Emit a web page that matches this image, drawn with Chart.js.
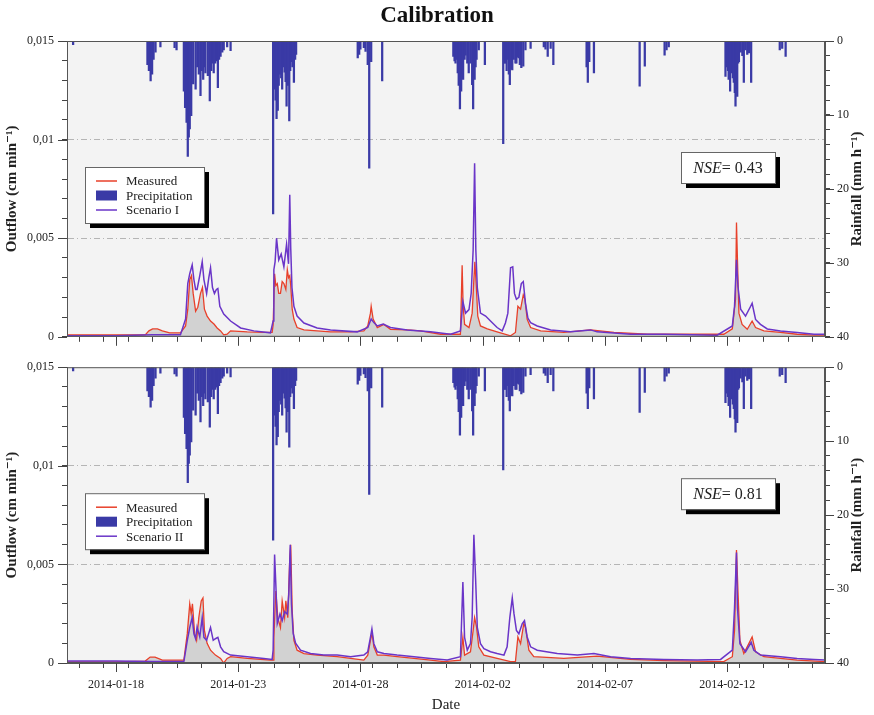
<!DOCTYPE html>
<html>
<head>
<meta charset="utf-8">
<script src="https://cdn.jsdelivr.net/npm/chart.js@4.4.1/dist/chart.umd.min.js"></script>
<style>
  html, body { margin: 0; padding: 0; background: #fff; }
  canvas { display: block; }
</style>
</head>
<body>
<canvas id="topPanel" width="874" height="352"></canvas>
<canvas id="bottomPanel" width="874" height="363"></canvas>
<script>
// ---------------------------------------------------------------
// Data (x = days since 2014-01-16 00:00)
// ---------------------------------------------------------------
const dayTicks   = [2, 7, 12, 17, 22, 27];
const dateLabels = ["2014-01-18", "2014-01-23", "2014-01-28", "2014-02-02", "2014-02-07", "2014-02-12"];
const outflowTicks  = [0, 0.005, 0.01, 0.015];
const outflowLabels = ["0", "0,005", "0,01", "0,015"];
const rainTicks = [0, 10, 20, 30, 40];
const seriesNames = ["Measured", "Precipitation", "Scenario I", "Scenario II"];
const nseValues = ["0.43", "0.81"];

// precipitation [day, mm/h]
const rainfall = [
  [0.25,0.5],
  [3.29,3.2],[3.35,4.0],[3.42,5.4],[3.48,4.5],[3.54,2.5],[3.62,1.5],[3.82,0.8],[4.40,0.9],[4.48,1.2],
  [4.78,6.8],[4.83,9],[4.89,11],[4.94,15.6],[4.98,13],[5.02,11.9],[5.08,10.1],[5.16,5.8],[5.26,6.5],[5.33,3.5],
  [5.39,4.5],[5.46,7.4],[5.51,4],[5.57,5.2],[5.62,3.5],[5.66,4.3],[5.76,4.7],[5.84,8.1],[5.90,4],[5.94,3],
  [6.00,4.3],[6.06,3],[6.11,2.7],[6.17,6.3],[6.22,2.5],[6.28,2.1],[6.35,1.5],[6.41,1.2],[6.55,0.8],[6.69,1.3],
  [8.43,23.4],[8.49,6.5],[8.53,8],[8.57,10.5],[8.62,9.4],[8.66,6],[8.70,4.5],[8.76,5],[8.80,6.5],[8.84,3.5],
  [8.90,4.2],[8.94,5.5],[8.98,8.8],[9.03,6],[9.09,10.8],[9.13,4],[9.17,2.8],[9.22,3.5],[9.28,5.6],[9.33,2.5],[9.37,1.8],
  [11.89,2.3],[11.95,1.8],[12.00,1.1],[12.14,0.9],[12.21,1.4],[12.30,3.2],[12.36,17.2],[12.44,2.8],[12.89,5.4],
  [15.80,2.1],[15.85,2.7],[15.89,3.0],[15.93,2.5],[15.98,4.3],[16.02,6],[16.07,9.2],[16.12,6.8],[16.16,4.5],[16.20,5.2],
  [16.26,2.5],[16.30,1.9],[16.37,3.0],[16.43,4.3],[16.50,3.0],[16.57,5.9],[16.61,9.2],[16.67,5.2],[16.71,3.5],[16.75,2.5],
  [16.84,1.2],[17.09,3.2],
  [17.84,13.9],[17.89,3],[17.93,3.0],[17.98,4],[18.03,2.5],[18.07,4.5],[18.11,5.9],[18.17,3.8],[18.21,3.9],[18.27,2.5],
  [18.34,3],[18.38,3.0],[18.44,2.2],[18.48,2.3],[18.52,3.2],[18.58,3.6],[18.66,3.4],[18.75,1.2],[18.96,1.0],
  [19.50,0.8],[19.57,1.1],[19.66,2.1],[19.78,1.0],[19.89,3.2],
  [21.25,3.5],[21.30,5.6],[21.36,2.8],[21.55,4.3],
  [23.42,6.1],[23.63,3.4],
  [24.44,1.9],[24.52,1.2],[24.61,0.8],
  [26.93,4.8],[26.97,3.5],[27.00,3.4],[27.03,4.0],[27.06,5.2],[27.10,4.5],[27.12,6.8],[27.16,4.0],[27.19,4.3],[27.23,5.0],
  [27.27,5.6],[27.31,7.0],[27.34,8.8],[27.38,6.5],[27.41,7.5],[27.45,3],[27.48,2.8],[27.55,1.5],[27.62,2],[27.68,5.6],
  [27.75,1.2],[27.82,1.8],[27.89,1.6],[27.98,5.6],
  [29.15,1.2],[29.25,1.0],[29.39,2.1]
];

// outflow [day, cm/min]
const measuredTop = [
  [0,0.0001],[1,0.0001],[2,0.0001],[3.2,0.0001],[3.35,0.0003],[3.5,0.0004],[3.7,0.0004],[3.9,0.0003],[4.2,0.0002],[4.64,0.0002],
  [4.85,0.00055],[4.94,0.0014],[5.02,0.0029],[5.09,0.0031],[5.16,0.0022],[5.26,0.0013],[5.35,0.0015],[5.46,0.0022],[5.54,0.0025],
  [5.62,0.0014],[5.73,0.00105],[5.87,0.0008],[6.01,0.00065],[6.14,0.00045],[6.28,0.0003],[6.41,0.0001],[6.55,0.00013],[6.69,0.0003],
  [7.37,0.00025],[8.05,0.00022],[8.39,0.00022],[8.43,0.0006],[8.49,0.0032],[8.54,0.0026],[8.6,0.0027],[8.66,0.0022],[8.73,0.0022],
  [8.8,0.0028],[8.87,0.0027],[8.95,0.0024],[9.01,0.0034],[9.06,0.003],[9.11,0.0031],[9.15,0.0026],[9.21,0.0014],[9.28,0.0009],
  [9.41,0.00047],[9.69,0.00035],[10.23,0.0003],[10.78,0.00025],[11.6,0.00025],[12.14,0.0003],[12.3,0.00055],[12.41,0.0012],
  [12.44,0.00155],[12.52,0.0009],[12.69,0.00047],[12.96,0.00063],[13.23,0.00038],[13.91,0.00035],[14.46,0.0003],[15.28,0.00013],
  [15.69,0.00013],[16.09,0.00013],[16.16,0.00363],[16.2,0.0016],[16.26,0.00063],[16.44,0.00047],[16.57,0.0012],[16.64,0.0029],
  [16.68,0.0038],[16.74,0.00255],[16.8,0.00105],[16.91,0.00055],[17.19,0.0004],[17.59,0.00025],[18.14,0.00005],[18.34,0.00022],
  [18.44,0.00155],[18.55,0.0014],[18.66,0.00213],[18.73,0.0019],[18.82,0.00088],[18.96,0.00047],[19.37,0.0003],[20.32,0.00022],
  [21.41,0.00035],[22.37,0.00022],[23.73,0.00013],[25.09,0.00013],[26.86,0.00013],[27.21,0.0004],[27.34,0.0019],[27.38,0.0058],
  [27.42,0.0039],[27.48,0.0012],[27.61,0.00063],[27.82,0.00038],[28.02,0.0008],[28.16,0.00047],[28.5,0.0003],[29.18,0.00022],
  [29.86,0.00013],[30.55,0.00008],[31,0.00008]
];
const scenarioI = [
  [0,0.00005],[2,0.00005],[3.5,0.0001],[4.64,0.0001],[4.85,0.0009],[4.94,0.0027],[5.02,0.0032],[5.12,0.00365],[5.19,0.0029],
  [5.26,0.0024],[5.32,0.0024],[5.43,0.0031],[5.53,0.0038],[5.6,0.0029],[5.71,0.0022],[5.8,0.003],[5.87,0.0035],[5.95,0.0025],
  [6.03,0.0022],[6.11,0.0024],[6.17,0.00245],[6.25,0.00155],[6.41,0.00115],[6.69,0.0008],[7.1,0.00045],[7.64,0.0003],[8.32,0.0002],
  [8.43,0.0008],[8.46,0.0034],[8.51,0.0038],[8.57,0.005],[8.66,0.0039],[8.76,0.0042],[8.87,0.00355],[8.98,0.0047],[9.06,0.0037],
  [9.11,0.0072],[9.15,0.0045],[9.2,0.0025],[9.28,0.00155],[9.41,0.00105],[9.69,0.0007],[10.23,0.00045],[10.78,0.00035],
  [11.87,0.00025],[12.3,0.00047],[12.44,0.0009],[12.55,0.00072],[12.69,0.00055],[12.93,0.00065],[13.23,0.00047],[13.91,0.00035],
  [14.87,0.00025],[15.69,0.00013],[16.09,0.0003],[16.19,0.0018],[16.3,0.0012],[16.44,0.00138],[16.53,0.0022],[16.61,0.0044],
  [16.67,0.0088],[16.72,0.0044],[16.78,0.0025],[16.91,0.0012],[17.12,0.00105],[17.32,0.0008],[17.59,0.00047],[17.8,0.0003],
  [17.93,0.0007],[18.03,0.0012],[18.14,0.0035],[18.23,0.00355],[18.3,0.0022],[18.38,0.0019],[18.48,0.002],[18.58,0.0027],
  [18.66,0.0028],[18.75,0.0017],[18.85,0.00095],[18.96,0.00072],[19.23,0.00055],[19.78,0.00035],[20.59,0.00025],[21.41,0.00035],
  [21.68,0.00025],[23.05,0.00013],[24.41,0.00013],[26.59,0.00008],[27.21,0.00055],[27.3,0.00155],[27.38,0.0039],[27.44,0.00255],
  [27.55,0.0014],[27.75,0.00105],[27.96,0.00155],[28.02,0.0017],[28.16,0.00088],[28.36,0.00063],[28.64,0.0004],[29.18,0.0003],
  [29.86,0.00022],[30.55,0.00013],[31,0.00013]
];
const measuredBottom = [
  [0,0.00005],[2,0.00005],[3.2,0.0001],[3.4,0.0003],[3.6,0.0003],[3.9,0.00015],[4.78,0.00015],[4.92,0.0015],[5.02,0.003],
  [5.08,0.0025],[5.13,0.003],[5.22,0.0015],[5.3,0.00115],[5.39,0.0023],[5.49,0.00315],[5.56,0.0033],[5.62,0.00165],[5.73,0.001],
  [5.87,0.00065],[6.07,0.0004],[6.28,0.00023],[6.41,0],[6.55,0.00023],[6.69,0.00032],[7.37,0.00023],[8.32,0.00015],[8.43,0.00015],
  [8.46,0.0013],[8.54,0.00365],[8.62,0.0023],[8.73,0.0018],[8.8,0.00315],[8.9,0.0023],[8.95,0.00315],[9.03,0.0023],[9.11,0.0053],
  [9.15,0.006],[9.21,0.00265],[9.28,0.00115],[9.41,0.00065],[9.69,0.00048],[10.23,0.0004],[11.05,0.00032],[11.6,0.00023],
  [12.14,0.00015],[12.3,0.0004],[12.41,0.00115],[12.48,0.0015],[12.55,0.00082],[12.69,0.0004],[12.96,0.0004],[13.5,0.00032],
  [14.19,0.00023],[14.87,0.00015],[15.41,0.00007],[16.09,0.00015],[16.19,0.0013],[16.26,0.0004],[16.5,0.00057],[16.61,0.00165],
  [16.67,0.0023],[16.75,0.00182],[16.84,0.00082],[17.05,0.0004],[17.59,0.00023],[18.14,0.00007],[18.34,0.00007],[18.44,0.00132],
  [18.55,0.00098],[18.68,0.002],[18.75,0.00182],[18.89,0.00065],[19.09,0.00032],[20.32,0.00023],[21.68,0.00035],[23.05,0.00018],
  [24.41,0.00012],[26.86,0.00007],[27.21,0.00032],[27.3,0.00165],[27.38,0.00573],[27.44,0.00365],[27.52,0.00115],[27.68,0.00048],
  [28.02,0.00132],[28.16,0.00057],[28.5,0.00032],[29.86,0.00015],[31,0.00007]
];
const scenarioII = [
  [0,0.0001],[2,0.0001],[3.5,0.00007],[4.78,0.00007],[4.92,0.00115],[5.02,0.0018],[5.12,0.0023],[5.19,0.00148],[5.26,0.00123],
  [5.32,0.00182],[5.43,0.00132],[5.53,0.0023],[5.6,0.0013],[5.71,0.00115],[5.87,0.0018],[5.98,0.00115],[6.07,0.00123],[6.17,0.0013],
  [6.28,0.00082],[6.41,0.00057],[6.69,0.0004],[7.37,0.00032],[8.05,0.00023],[8.39,0.00018],[8.43,0.00065],[8.49,0.0055],[8.54,0.004],
  [8.6,0.002],[8.71,0.00248],[8.8,0.00215],[8.9,0.0026],[9.01,0.00248],[9.07,0.00348],[9.13,0.006],[9.18,0.003],[9.25,0.0015],
  [9.35,0.001],[9.55,0.00065],[9.96,0.00048],[10.5,0.0004],[11.05,0.0004],[11.6,0.00032],[12.14,0.0004],[12.3,0.00057],[12.41,0.0013],
  [12.47,0.00173],[12.55,0.00098],[12.69,0.00057],[12.96,0.00048],[13.5,0.0004],[14.19,0.00032],[14.87,0.00023],[15.55,0.00015],
  [16.09,0.00032],[16.19,0.0041],[16.26,0.0013],[16.37,0.00065],[16.5,0.00098],[16.57,0.0023],[16.64,0.0065],[16.71,0.0043],
  [16.78,0.0018],[16.91,0.00098],[17.05,0.00073],[17.32,0.00057],[17.59,0.00048],[17.87,0.0004],[18,0.00082],[18.11,0.0023],
  [18.21,0.0033],[18.28,0.0025],[18.38,0.00165],[18.48,0.00148],[18.62,0.002],[18.71,0.00215],[18.82,0.00132],[18.96,0.00082],
  [19.23,0.00065],[20.05,0.00048],[20.87,0.0004],[21.55,0.00048],[22.23,0.00032],[23.05,0.00023],[24.41,0.00018],[25.77,0.00015],
  [26.73,0.00018],[27.21,0.00065],[27.3,0.0028],[27.38,0.0056],[27.42,0.0028],[27.52,0.00098],[27.75,0.00057],[27.98,0.00105],
  [28.09,0.00065],[28.36,0.0004],[29.18,0.00032],[29.86,0.00023],[30.55,0.00018],[31,0.00015]
];

// ---------------------------------------------------------------
// Styling
// ---------------------------------------------------------------
const FONT = "'Liberation Serif', 'DejaVu Serif', serif";
const TEXT = "#222";
const RED = "#e8402a";
const PURPLE = "#6a35c8";
const BLUE = "#3a3aa6";
const AXIS = "#555";

const toXY = arr => arr.map(([x, y]) => ({ x, y }));
const near = (a, b) => Math.abs(a - b) < 1e-9;

// background, frame, longer major ticks, legend box, NSE box, right title
function panelDecor(nse){
  return {
    id: "panelDecor",
    beforeDraw(chart){
      const { ctx, chartArea: a } = chart;
      ctx.save();
      ctx.fillStyle = "#f3f3f3";
      ctx.fillRect(a.left, a.top, a.right - a.left, a.bottom - a.top);
      ctx.restore();
    },
    afterDraw(chart){
      const { ctx, chartArea: a, scales } = chart;
      ctx.save();
      ctx.strokeStyle = AXIS;
      ctx.lineWidth = 1;
      ctx.strokeRect(a.left + 0.5, a.top + 0.5, a.right - a.left - 1, a.bottom - a.top - 1);

      // major ticks a little longer than the minor ones
      ctx.strokeStyle = "#444";
      ctx.beginPath();
      dayTicks.forEach(d => {
        const px = Math.round(scales.x.getPixelForValue(d)) + 0.5;
        ctx.moveTo(px, a.bottom); ctx.lineTo(px, a.bottom + 9);
      });
      outflowTicks.forEach(t => {
        const py = Math.round(scales.y.getPixelForValue(t)) + 0.5;
        ctx.moveTo(a.left - 9, py); ctx.lineTo(a.left, py);
      });
      rainTicks.forEach(t => {
        const py = Math.round(scales.rain.getPixelForValue(t)) + 0.5;
        ctx.moveTo(a.right, py); ctx.lineTo(a.right + 9, py);
      });
      ctx.stroke();

      // legend
      const lx = a.left + 18, ly = a.top + 126, lw = 119, lh = 56;
      ctx.fillStyle = "#000";
      ctx.fillRect(lx + 5, ly + 5, lw, lh);
      ctx.fillStyle = "#fff";
      ctx.fillRect(lx, ly, lw, lh);
      ctx.strokeStyle = "#666";
      ctx.strokeRect(lx + 0.5, ly + 0.5, lw, lh);
      ctx.font = "13px " + FONT;
      ctx.textBaseline = "middle";
      chart.data.datasets.forEach((ds, i) => {
        const y = ly + 14 + i * 14.5;
        if(ds.type === "bar"){
          ctx.fillStyle = ds.backgroundColor;
          ctx.fillRect(lx + 11, y - 5, 21, 10);
        } else {
          ctx.strokeStyle = ds.borderColor;
          ctx.lineWidth = 1.5;
          ctx.beginPath();
          ctx.moveTo(lx + 11, y);
          ctx.lineTo(lx + 32, y);
          ctx.stroke();
        }
        ctx.fillStyle = TEXT;
        ctx.fillText(ds.label, lx + 41, y + 1);
      });

      // NSE box
      const bx = a.left + 614, by = a.top + 111, bw = 94, bh = 31;
      ctx.fillStyle = "#000";
      ctx.fillRect(bx + 5, by + 5, bw, bh);
      ctx.fillStyle = "#fff";
      ctx.fillRect(bx, by, bw, bh);
      ctx.strokeStyle = "#666";
      ctx.lineWidth = 1;
      ctx.strokeRect(bx + 0.5, by + 0.5, bw, bh);
      const itFont = "italic 16px " + FONT, rgFont = "16px " + FONT;
      const rest = "= " + nse;
      ctx.font = itFont; const w1 = ctx.measureText("NSE").width;
      ctx.font = rgFont; const w2 = ctx.measureText(rest).width;
      const tx = bx + (bw - w1 - w2) / 2;
      ctx.fillStyle = TEXT;
      ctx.textAlign = "left";
      ctx.font = itFont; ctx.fillText("NSE", tx, by + bh / 2 + 1);
      ctx.font = rgFont; ctx.fillText(rest, tx + w1, by + bh / 2 + 1);

      // right axis title, reading bottom-to-top
      ctx.translate(chart.width - 17, (a.top + a.bottom) / 2);
      ctx.rotate(-Math.PI / 2);
      ctx.font = "bold 15px " + FONT;
      ctx.textAlign = "center";
      ctx.fillText("Rainfall (mm h\u207B\u00B9)", 0, 0);
      ctx.restore();
    }
  };
}

function makePanel(id, measured, scenario, scenarioName, nse, isTop){
  const tickFont = { family: FONT, size: 12 };
  return new Chart(document.getElementById(id), {
    type: "line",
    data: {
      datasets: [
        { type: "line", label: seriesNames[0], data: toXY(measured), yAxisID: "y",
          borderColor: RED, borderWidth: 1.3, pointRadius: 0, tension: 0,
          fill: "origin", backgroundColor: "#d2d2d2", order: 1 },
        { type: "bar", label: seriesNames[1], data: toXY(rainfall), yAxisID: "rain",
          backgroundColor: BLUE, barThickness: 1.6, order: 2 },
        { type: "line", label: scenarioName, data: toXY(scenario), yAxisID: "y",
          borderColor: PURPLE, borderWidth: 1.5, pointRadius: 0, tension: 0,
          fill: false, order: 0 }
      ]
    },
    options: {
      responsive: false,
      animation: false,
      events: [],
      layout: { padding: { top: isTop ? 0 : 11, left: 0, right: 0, bottom: 0 } },
      plugins: {
        legend: { display: false },
        tooltip: { enabled: false },
        title: {
          display: isTop, text: "Calibration", color: "#111",
          font: { family: FONT, size: 23, weight: "bold" },
          padding: { top: 2, bottom: 11.4 }
        }
      },
      scales: {
        x: {
          type: "linear", min: 0, max: 31, offset: false,
          afterFit: s => { s.height = isTop ? 11 : 52; },
          ticks: {
            display: !isTop, stepSize: 1, maxTicksLimit: 100, autoSkip: false,
            maxRotation: 0, padding: 10, color: TEXT, font: tickFont,
            callback: v => {
              const k = dayTicks.findIndex(d => near(d, v));
              return k >= 0 ? dateLabels[k] : "";
            }
          },
          grid: { drawOnChartArea: false, tickLength: 5, tickColor: "#444" },
          border: { color: AXIS },
          title: { display: !isTop, text: "Date", color: TEXT,
                   font: { family: FONT, size: 15 }, padding: { top: 0, bottom: 1 } }
        },
        y: {
          position: "left", min: 0, max: 0.015,
          afterFit: s => { s.width = 67; },
          ticks: {
            stepSize: 0.001, maxTicksLimit: 100, autoSkip: false, padding: 8,
            color: TEXT, font: tickFont,
            callback: v => {
              const k = outflowTicks.findIndex(t => near(t, v));
              return k >= 0 ? outflowLabels[k] : "";
            }
          },
          grid: {
            tickLength: 5, tickColor: "#444",
            color: c => {
              const v = c.tick ? c.tick.value : NaN;
              const inner = outflowTicks.slice(1, -1).some(t => near(t, v));
              return inner ? "#b5b5b5" : "rgba(0,0,0,0)";
            }
          },
          border: { color: AXIS, dash: [6, 3, 1, 3] },
          title: { display: true, text: "Outflow (cm min\u207B\u00B9)", color: TEXT,
                   font: { family: FONT, size: 15, weight: "bold" }, padding: { top: 3, bottom: 0 } }
        },
        rain: {
          position: "right", reverse: true, min: 0, max: 40,
          afterFit: s => { s.width = 49; },
          ticks: {
            stepSize: 2, maxTicksLimit: 100, autoSkip: false, padding: 7,
            color: TEXT, font: tickFont,
            callback: v => rainTicks.some(t => near(t, v)) ? String(v) : ""
          },
          grid: { drawOnChartArea: false, tickLength: 5, tickColor: "#444" },
          border: { color: AXIS }
        }
      }
    },
    plugins: [panelDecor(nse)]
  });
}

makePanel("topPanel", measuredTop, scenarioI, seriesNames[2], nseValues[0], true);
makePanel("bottomPanel", measuredBottom, scenarioII, seriesNames[3], nseValues[1], false);
</script>
</body>
</html>
